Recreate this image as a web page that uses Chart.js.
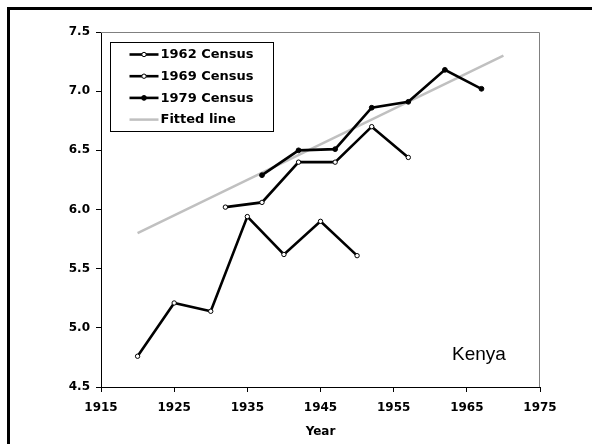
<!DOCTYPE html>
<html>
<head>
<meta charset="utf-8">
<script src="https://cdn.jsdelivr.net/npm/chart.js@4.4.1/dist/chart.umd.min.js"></script>
<style>
  html, body { margin: 0; padding: 0; background: #fff; overflow: hidden; }
  #frame { position: absolute; left: 7px; top: 7px; width: 700px; height: 600px; border: 3px solid #000; }
  #wrap { position: absolute; left: 0; top: 0; width: 592px; height: 444px; }
</style>
</head>
<body>
<div id="frame"></div>
<div id="wrap"><canvas id="mycanvas" width="592" height="444"></canvas></div>
<script>
// census estimates, by year
var years1962 = [1920, 1925, 1930, 1935, 1940, 1945, 1950];
var values1962 = [4.76, 5.21, 5.14, 5.94, 5.62, 5.90, 5.61];

var years1969 = [1932, 1937, 1942, 1947, 1952, 1957];
var values1969 = [6.02, 6.06, 6.40, 6.40, 6.70, 6.44];

var years1979 = [1937, 1942, 1947, 1952, 1957, 1962, 1967];
var values1979 = [6.29, 6.50, 6.51, 6.86, 6.91, 7.18, 7.02];

var fitYears = [1920, 1970];
var fitValues = [5.80, 7.30];

var seriesNames = ['1962 Census', '1969 Census', '1979 Census', 'Fitted line'];
var xTicks = [1915, 1925, 1935, 1945, 1955, 1965, 1975];
var yTicks = [4.5, 5.0, 5.5, 6.0, 6.5, 7.0, 7.5];
var countryLabel = 'Kenya';

function toPoints(xs, ys) {
	var pts = [];
	for (var i in xs) {
		pts.push({x: xs[i], y: ys[i]});
	}
	return pts;
}

var tickFont = {family: 'DejaVu Sans', size: 12, weight: 'bold'};

// legend inside the plot, top left, with a box round it
var boxLegend = {
	id: 'boxLegend',
	afterDatasetsDraw: function(chart) {
		var ctx = chart.ctx;
		var a = chart.chartArea;
		var bx = a.left + 9.5, by = a.top + 10.5, bw = 163, bh = 89;
		ctx.save();
		ctx.fillStyle = '#fff';
		ctx.fillRect(bx, by, bw, bh);
		ctx.strokeStyle = '#000';
		ctx.lineWidth = 1;
		ctx.strokeRect(bx, by, bw, bh);
		ctx.font = 'bold 13px "DejaVu Sans"';
		ctx.textBaseline = 'middle';
		chart.data.datasets.forEach(function(ds, i) {
			var y = by + 12 + i * 21.7;
			var x0 = bx + 19, x1 = bx + 48;
			ctx.strokeStyle = ds.borderColor;
			ctx.lineWidth = ds.borderWidth;
			ctx.beginPath();
			ctx.moveTo(x0, y);
			ctx.lineTo(x1, y);
			ctx.stroke();
			if (ds.pointRadius > 0) {
				ctx.beginPath();
				ctx.arc((x0 + x1) / 2, y, ds.pointRadius, 0, Math.PI * 2);
				ctx.fillStyle = ds.pointBackgroundColor;
				ctx.fill();
				ctx.lineWidth = ds.pointBorderWidth;
				ctx.strokeStyle = ds.pointBorderColor;
				ctx.stroke();
			}
			ctx.fillStyle = '#000';
			ctx.textAlign = 'left';
			ctx.fillText(ds.label, x1 + 2, y + 0.5);
		});
		// country name
		ctx.font = '19px "Liberation Sans"';
		ctx.textBaseline = 'alphabetic';
		ctx.fillText(countryLabel, a.right - 88, a.bottom - 27);
		ctx.restore();
	},
	beforeDatasetsDraw: function(chart) {
		var ctx = chart.ctx;
		var a = chart.chartArea;
		ctx.save();
		ctx.strokeStyle = '#808080';
		ctx.lineWidth = 1;
		ctx.beginPath();
		ctx.moveTo(a.left, a.top + 0.5);
		ctx.lineTo(a.right - 0.5, a.top + 0.5);
		ctx.lineTo(a.right - 0.5, a.bottom);
		ctx.stroke();
		ctx.restore();
	}
};

var chartdata = {
	datasets: [
		{
			label: seriesNames[0],
			data: toPoints(years1962, values1962),
			borderColor: '#000',
			borderWidth: 2.6,
			pointRadius: 2.2,
			pointBackgroundColor: '#fff',
			pointBorderColor: '#000',
			pointBorderWidth: 1
		},
		{
			label: seriesNames[1],
			data: toPoints(years1969, values1969),
			borderColor: '#000',
			borderWidth: 2.6,
			pointRadius: 2.2,
			pointBackgroundColor: '#fff',
			pointBorderColor: '#000',
			pointBorderWidth: 1
		},
		{
			label: seriesNames[2],
			data: toPoints(years1979, values1979),
			borderColor: '#000',
			borderWidth: 2.6,
			pointRadius: 2.4,
			pointBackgroundColor: '#000',
			pointBorderColor: '#000',
			pointBorderWidth: 1
		},
		{
			label: seriesNames[3],
			data: toPoints(fitYears, fitValues),
			borderColor: '#c0c0c0',
			borderWidth: 2.5,
			pointRadius: 0,
			pointBackgroundColor: '#c0c0c0',
			pointBorderColor: '#c0c0c0',
			pointBorderWidth: 0
		}
	]
};
// fitted line goes underneath the census lines
chartdata.datasets[3].order = 1;

var ctx = document.getElementById('mycanvas');
var lineGraph = new Chart(ctx, {
	type: 'line',
	data: chartdata,
	plugins: [boxLegend],
	options: {
		responsive: false,
		animation: false,
		layout: {padding: {top: 32, right: 52, bottom: 0, left: 0}},
		plugins: {
			legend: {display: false},
			tooltip: {enabled: false}
		},
		elements: {line: {tension: 0}},
		scales: {
			x: {
				type: 'linear',
				min: xTicks[0],
				max: xTicks[xTicks.length - 1],
				afterBuildTicks: function(scale) {
					scale.ticks = xTicks.map(function(v) { return {value: v}; });
				},
				afterFit: function(scale) { scale.height = 57; },
				grid: {display: true, drawOnChartArea: false, drawTicks: true, tickLength: 5, color: '#000'},
				border: {display: true, color: '#000', width: 1},
				ticks: {
					color: '#000',
					font: tickFont,
					padding: 9,
					maxRotation: 0,
					callback: function(v) { return String(v); }
				},
				title: {
					display: true,
					text: 'Year',
					color: '#000',
					font: tickFont,
					padding: {top: 0, bottom: 5}
				}
			},
			y: {
				min: yTicks[0],
				max: yTicks[yTicks.length - 1],
				afterBuildTicks: function(scale) {
					scale.ticks = yTicks.map(function(v) { return {value: v}; });
				},
				afterFit: function(scale) { scale.width = 101; },
				grid: {display: true, drawOnChartArea: false, drawTicks: true, tickLength: 5, color: '#000'},
				border: {display: true, color: '#000', width: 1},
				ticks: {
					color: '#000',
					font: tickFont,
					padding: 6,
					callback: function(v) { return Number(v).toFixed(1); }
				}
			}
		}
	}
});
</script>
</body>
</html>
